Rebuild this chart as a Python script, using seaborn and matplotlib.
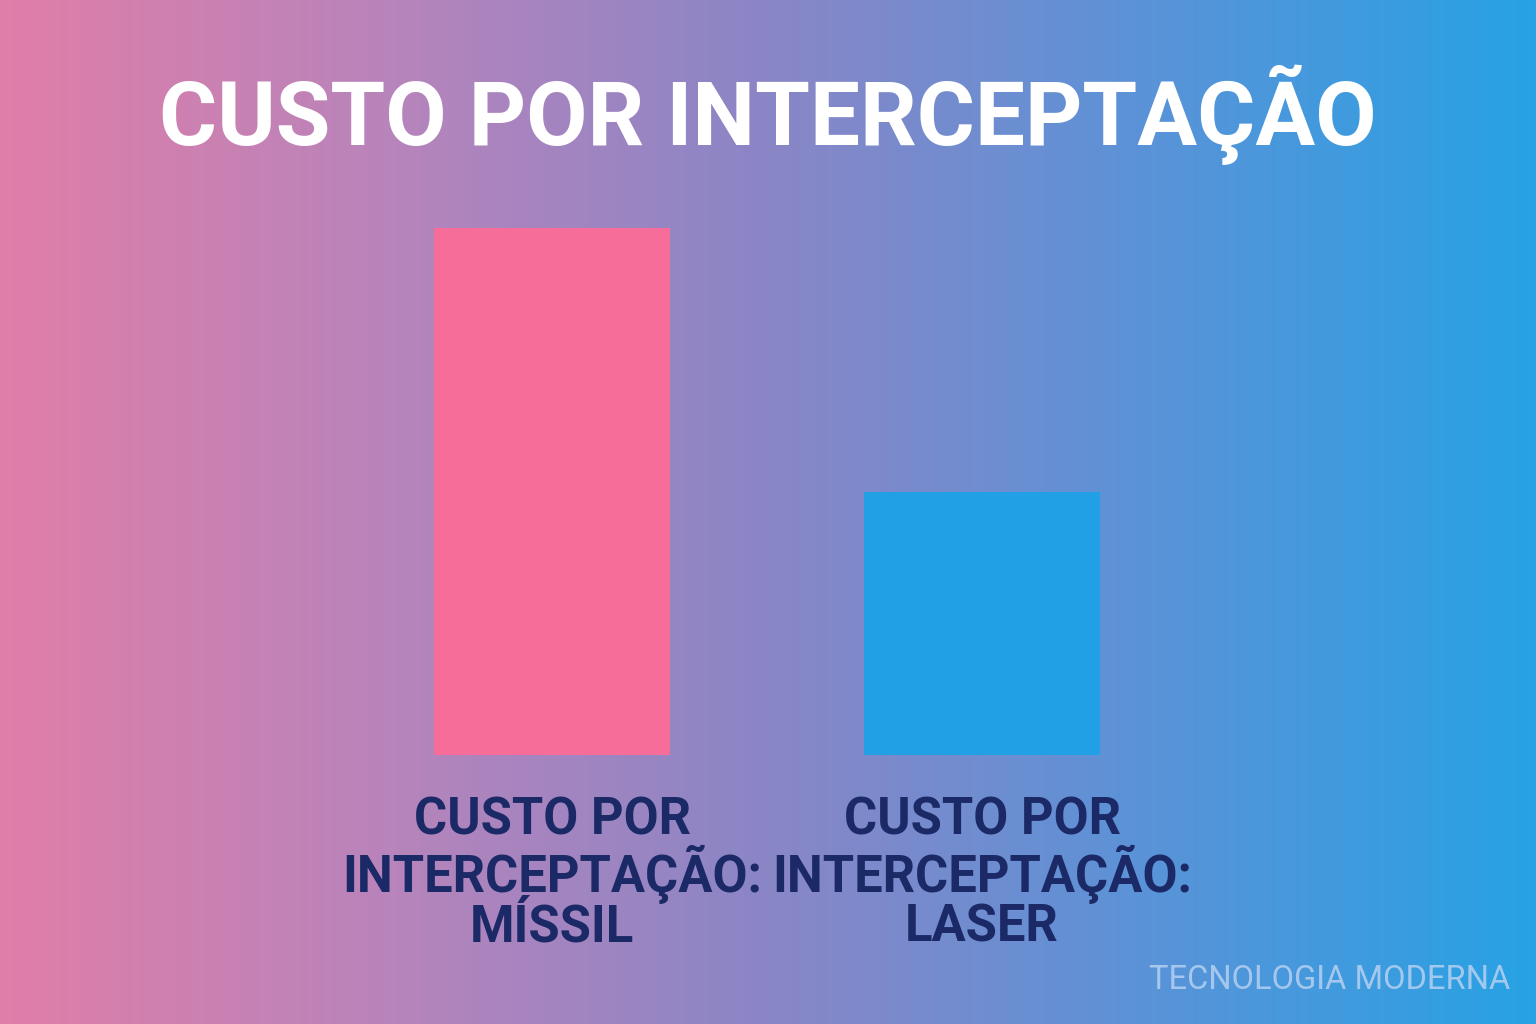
import numpy as np
import pandas as pd
import matplotlib
matplotlib.use("Agg")
import matplotlib.pyplot as plt
from matplotlib.colors import LinearSegmentedColormap
import seaborn as sns

# Dados
categorias = ["CUSTO POR\nINTERCEPTAÇÃO:\nMÍSSIL", "CUSTO POR\nINTERCEPTAÇÃO:\nLASER"]
valores = [100, 50]
cores = ["#f76d9a", "#22a0e6"]
titulo = "CUSTO POR INTERCEPTAÇÃO"
marca = "TECNOLOGIA MODERNA"

sns.set_theme(style="white")
plt.rcParams["font.family"] = ["Roboto", "DejaVu Sans"]

fig = plt.figure(figsize=(15.36, 10.24), dpi=100)

# fundo em degradê
bg = fig.add_axes([0, 0, 1, 1], zorder=0)
cmap = LinearSegmentedColormap.from_list(
    "fundo", ["#e07ea8", "#b884bb", "#8a86c6", "#5a93d8", "#27a2e4"])
grad = np.linspace(0, 1, 512).reshape(1, -1)
bg.imshow(grad, aspect="auto", cmap=cmap, extent=[0, 1, 0, 1])
bg.set_axis_off()

ax = fig.add_axes([337 / 1536, 1 - 755 / 1024, 860 / 1536, 527 / 1024], zorder=1)
ax.patch.set_alpha(0)
df = pd.DataFrame({"cat": categorias, "val": valores})
sns.barplot(data=df, x="cat", y="val", hue="cat", palette=cores, legend=False,
            width=0.55, ax=ax, saturation=1, linewidth=0)
ax.set_xlim(-0.5, 1.5)
ax.set_ylim(0, max(valores))
ax.set_xlabel("")
ax.set_ylabel("")
ax.set_yticks([])
sns.despine(ax=ax, left=True, bottom=True)
ax.tick_params(axis="x", length=0, pad=29)
for lbl in ax.get_xticklabels():
    lbl.set_fontsize(36.5)
    lbl.set_fontweight("bold")
    lbl.set_color("#1b2a66")
    lbl.set_linespacing(0.98)

fig.text(0.5, 1 - 115 / 1024, titulo, ha="center", va="center",
         fontsize=64, fontweight="bold", color="white")
fig.text(1510 / 1536, 1 - 980 / 1024, marca, ha="right", va="center",
         fontsize=23.5, color="#b0cdf0", alpha=0.9)

fig.savefig("out.png", dpi=100)
